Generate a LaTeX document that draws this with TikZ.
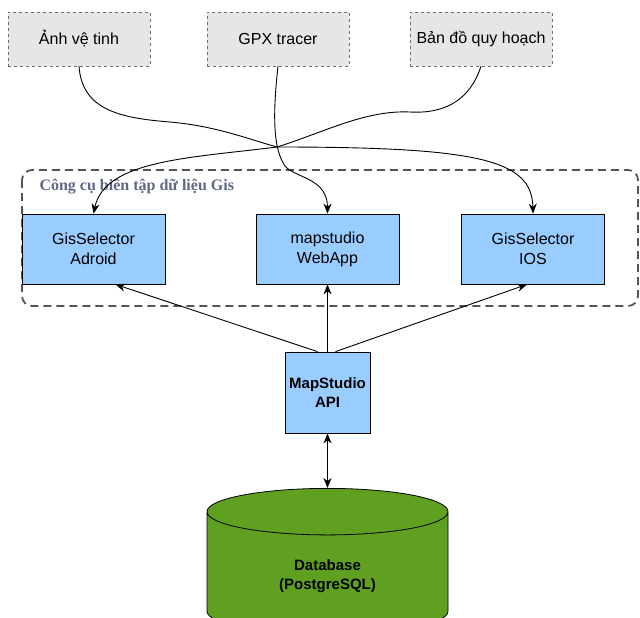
\documentclass[tikz,border=0pt]{standalone}
\usepackage{fontspec}
\setmainfont{Liberation Sans}
\newfontfamily\titlefont{Liberation Serif}
\usetikzlibrary{positioning, arrows.meta, shapes.geometric}
\definecolor{srcfill}{RGB}{230,230,230}
\definecolor{srcline}{RGB}{110,110,110}
\definecolor{appfill}{RGB}{153,204,255}
\definecolor{dbfill}{RGB}{96,160,32}
\definecolor{grouptext}{RGB}{95,105,135}
\definecolor{groupline}{RGB}{85,85,85}

\begin{document}
\begin{tikzpicture}[x=1pt, y=-1pt,
  source/.style={
    rectangle, draw=srcline, fill=srcfill, dashed,
    minimum width=142pt, minimum height=54pt,
    font=\fontsize{16}{19}\selectfont
  },
  app/.style={
    rectangle, draw=black, fill=appfill, line width=0.8pt,
    minimum width=143pt, minimum height=70pt, align=center,
    font=\fontsize{16}{20}\selectfont
  },
  group/.style={
    draw=groupline, line width=1.8pt, dash pattern=on 8pt off 5pt,
    rounded corners=10pt
  },
  db/.style={
    cylinder, shape border rotate=90, draw=black, fill=dbfill,
    line width=0.8pt, minimum width=241pt, minimum height=146pt,
    aspect=0.45, align=center, font=\bfseries\fontsize{15}{19}\selectfont
  },
  arr/.style={-{Stealth[length=10pt, width=8pt]}, line width=0.9pt},
  biarr/.style={{Stealth[length=10pt, width=8pt]}-{Stealth[length=10pt, width=8pt]}, line width=0.9pt}
]
\useasboundingbox (0,0) rectangle (640,618);

% nguon du lieu
\node[source] (anh) at (79,39) {Ảnh vệ tinh};
\node[source] (gpx) at (278,39) {GPX tracer};
\node[source] (bando) at (481,39) {Bản đồ quy hoạch};

% nhom cong cu
\draw[group] (22,170) rectangle (638,306);
\node[anchor=west, text=grouptext, font=\titlefont\bfseries\fontsize{16}{19}\selectfont] (title) at (36,187) {Công cụ biên tập dữ liệu Gis};

\node[app] (android) at (93.5,249) {GisSelector\\Adroid};
\node[app] (webapp) at (327.5,249) {mapstudio\\WebApp};
\node[app] (ios) at (533,249) {GisSelector\\IOS};

\node[app, minimum width=85pt, minimum height=81pt, inner sep=0pt,
  font=\bfseries\fontsize{15}{19}\selectfont] (api) at (327.5,392.5) {MapStudio\\API};

\node[db, anchor=north] (database) at (327.5,488) {Database\\(PostgreSQL)};

% duong cong tu nguon
\draw[arr] (anh.south) .. controls (82,110) and (120,118) .. (170,122)
  .. controls (215,126) and (245,138) .. (277,147)
  .. controls (480,147) and (532,160) .. (ios.north);
\draw[arr] (bando.south) .. controls (470,100) and (445,114) .. (410,112)
  .. controls (365,110) and (325,132) .. (277,147)
  .. controls (190,158) and (105,160) .. (android.north);
\draw[arr] (gpx.south) .. controls (272,120) and (274,150) .. (285,166)
  .. controls (295,178) and (327.5,178) .. (webapp.north);

% api
\draw[arr] ([xshift=-10pt]api.north) -- ([xshift=22pt]android.south);
\draw[arr] (api.north) -- (webapp.south);
\draw[arr] ([xshift=8pt]api.north) -- ([xshift=-6pt]ios.south);
\draw[biarr] (api.south) -- (database.north);
\end{tikzpicture}
\end{document}
